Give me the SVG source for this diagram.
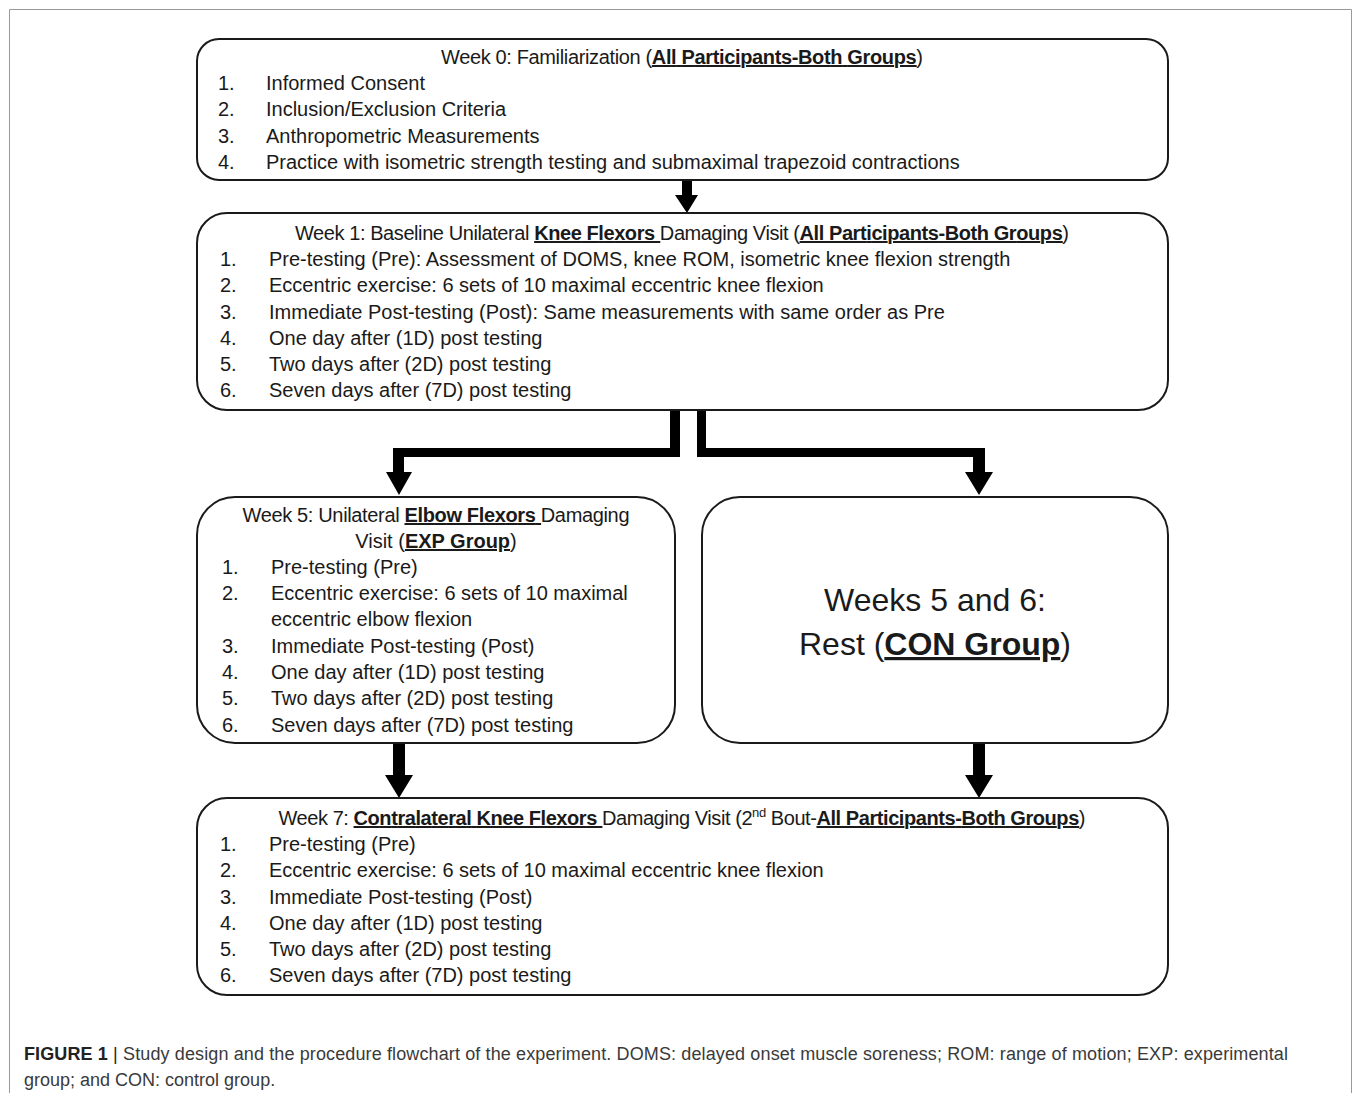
<svg xmlns="http://www.w3.org/2000/svg" width="1357" height="1093" viewBox="0 0 1357 1093">
<style>
.box{fill:#fff;stroke:#1a1a1a;stroke-width:2}
.t{font-family:"Liberation Sans",Arial,sans-serif;font-size:20px;fill:#1a1a1a}
.c{text-anchor:middle}
.u{font-weight:bold;text-decoration:underline}
.big{font-size:32px}
.cap{font-family:"Liberation Sans",Arial,sans-serif;font-size:18px;fill:#3a3a3a}
.arr{fill:#000}
</style>
<rect width="1357" height="1093" fill="#fff"/>
<path d="M9.5,1093 V9.5 H1351.5 V1093" fill="none" stroke="#999" stroke-width="1"/>

<g id="connectors">
<path class="arr" d="M682,180 H692 V195 H698 L687,213 L675,195 H682 Z"/>
<path class="arr" d="M670,410 H680 V457 H404 V472 H412 L399,495 L386,472 H393 V448 H670 Z"/>
<path class="arr" d="M697,410 H706 V448 H985 V472 H993 L979,495 L965,472 H973 V457 H697 Z"/>
<path class="arr" d="M393,743 H405 V775 H413 L399,798 L385,775 H393 Z"/>
<path class="arr" d="M973,743 H985 V775 H993 L979,798 L965,775 H973 Z"/>
</g>

<g id="week0">
<rect class="box" x="197" y="39" width="971" height="141" rx="22"/>
<text class="t c" x="682" y="64" textLength="482">Week 0: Familiarization (<tspan class="u">All Participants-Both Groups</tspan>)</text>
<text class="t" x="218" y="90">1.</text><text class="t" x="266" y="90">Informed Consent</text>
<text class="t" x="218" y="116">2.</text><text class="t" x="266" y="116">Inclusion/Exclusion Criteria</text>
<text class="t" x="218" y="143">3.</text><text class="t" x="266" y="143">Anthropometric Measurements</text>
<text class="t" x="218" y="169">4.</text><text class="t" x="266" y="169">Practice with isometric strength testing and submaximal trapezoid contractions</text>
</g>

<g id="week1">
<rect class="box" x="197" y="213" width="971" height="197" rx="30"/>
<text class="t c" x="682" y="240" textLength="774">Week 1: Baseline Unilateral <tspan class="u">Knee Flexors </tspan>Damaging Visit (<tspan class="u">All Participants-Both Groups</tspan>)</text>
<text class="t" x="220" y="266">1.</text><text class="t" x="269" y="266">Pre-testing (Pre): Assessment of DOMS, knee ROM, isometric knee flexion strength</text>
<text class="t" x="220" y="292">2.</text><text class="t" x="269" y="292">Eccentric exercise: 6 sets of 10 maximal eccentric knee flexion</text>
<text class="t" x="220" y="319">3.</text><text class="t" x="269" y="319">Immediate Post-testing (Post): Same measurements with same order as Pre</text>
<text class="t" x="220" y="345">4.</text><text class="t" x="269" y="345">One day after (1D) post testing</text>
<text class="t" x="220" y="371">5.</text><text class="t" x="269" y="371">Two days after (2D) post testing</text>
<text class="t" x="220" y="397">6.</text><text class="t" x="269" y="397">Seven days after (7D) post testing</text>
</g>

<g id="week5-exp">
<rect class="box" x="197" y="497" width="478" height="246" rx="38"/>
<text class="t c" x="436" y="522" textLength="387">Week 5: Unilateral <tspan class="u">Elbow Flexors </tspan>Damaging</text>
<text class="t c" x="436" y="548">Visit (<tspan class="u">EXP Group</tspan>)</text>
<text class="t" x="222" y="574">1.</text><text class="t" x="271" y="574">Pre-testing (Pre)</text>
<text class="t" x="222" y="600">2.</text><text class="t" x="271" y="600">Eccentric exercise: 6 sets of 10 maximal</text>
<text class="t" x="271" y="626">eccentric elbow flexion</text>
<text class="t" x="222" y="653">3.</text><text class="t" x="271" y="653">Immediate Post-testing (Post)</text>
<text class="t" x="222" y="679">4.</text><text class="t" x="271" y="679">One day after (1D) post testing</text>
<text class="t" x="222" y="705">5.</text><text class="t" x="271" y="705">Two days after (2D) post testing</text>
<text class="t" x="222" y="732">6.</text><text class="t" x="271" y="732">Seven days after (7D) post testing</text>
</g>

<g id="week5-con">
<rect class="box" x="702" y="497" width="466" height="246" rx="38"/>
<text class="t c big" x="935" y="611">Weeks 5 and 6:</text>
<text class="t c big" x="935" y="655">Rest (<tspan class="u">CON Group</tspan>)</text>
</g>

<g id="week7">
<rect class="box" x="197" y="798" width="971" height="197" rx="30"/>
<text class="t c" x="682" y="825" textLength="807">Week 7: <tspan class="u">Contralateral Knee Flexors </tspan>Damaging Visit (2<tspan font-size="13" dy="-8">nd</tspan><tspan dy="8"> Bout-</tspan><tspan class="u">All Participants-Both Groups</tspan>)</text>
<text class="t" x="220" y="851">1.</text><text class="t" x="269" y="851">Pre-testing (Pre)</text>
<text class="t" x="220" y="877">2.</text><text class="t" x="269" y="877">Eccentric exercise: 6 sets of 10 maximal eccentric knee flexion</text>
<text class="t" x="220" y="904">3.</text><text class="t" x="269" y="904">Immediate Post-testing (Post)</text>
<text class="t" x="220" y="930">4.</text><text class="t" x="269" y="930">One day after (1D) post testing</text>
<text class="t" x="220" y="956">5.</text><text class="t" x="269" y="956">Two days after (2D) post testing</text>
<text class="t" x="220" y="982">6.</text><text class="t" x="269" y="982">Seven days after (7D) post testing</text>
</g>

<g id="caption">
<text class="cap" x="24" y="1060" textLength="1264"><tspan font-weight="bold" fill="#222">FIGURE 1</tspan> <tspan fill="#222">|</tspan> Study design and the procedure flowchart of the experiment. DOMS: delayed onset muscle soreness; ROM: range of motion; EXP: experimental</text>
<text class="cap" x="24" y="1086">group; and CON: control group.</text>
</g>
</svg>
